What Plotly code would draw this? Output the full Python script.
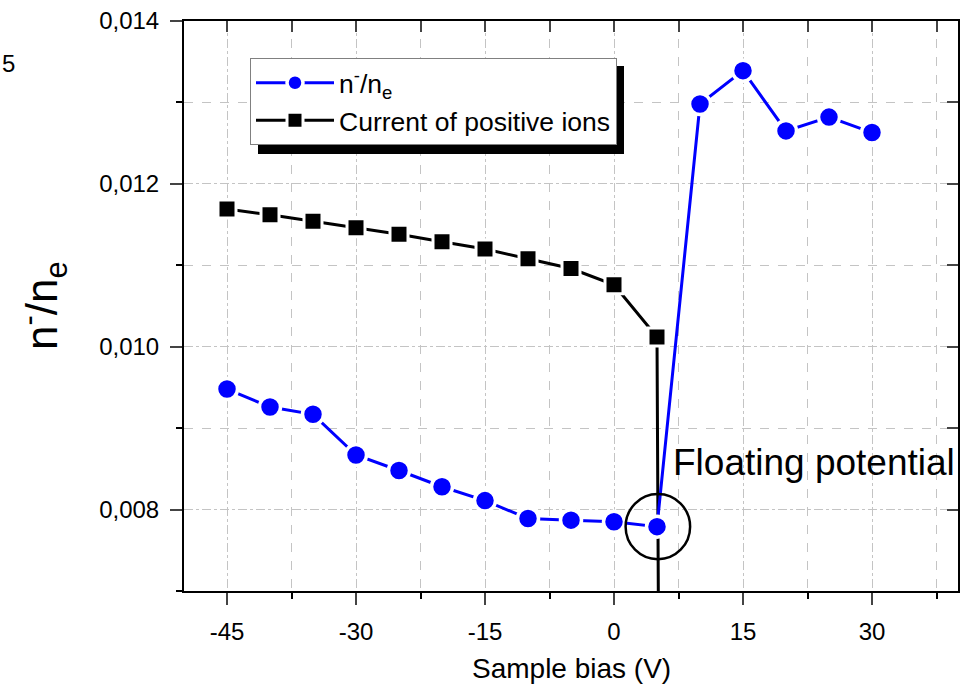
import plotly.graph_objects as go

# ---- data ----
bias_ratio = [-45, -40, -35, -30, -25, -20, -15, -10, -5, 0, 5, 10, 15, 20, 25, 30]
ratio = [0.00948, 0.00926, 0.00917, 0.00867, 0.00848, 0.00828, 0.00811, 0.00789,
         0.00787, 0.00785, 0.00779, 0.01298, 0.01339, 0.01265, 0.01282, 0.01263]

bias_current = [-45, -40, -35, -30, -25, -20, -15, -10, -5, 0, 5, 5.2]
current = [0.01169, 0.01162, 0.01154, 0.01146, 0.01138, 0.01129, 0.01120, 0.01108,
           0.01096, 0.01076, 0.01012, 0.0060]

x_ticks = [-45, -30, -15, 0, 15, 30]
x_tick_labels = ["-45", "-30", "-15", "0", "15", "30"]
y_ticks = [0.008, 0.010, 0.012, 0.014]
y_tick_labels = ["0,008", "0,010", "0,012", "0,014"]

float_x, float_y = 5.1, 0.00779   # floating potential marker (circle centre)
float_rx, float_ry = 3.75, 0.0004

FONT = "Arial, Liberation Sans, sans-serif"
GRID = "#c4c4c4"

fig = go.Figure()

fig.add_trace(go.Scatter(
    x=bias_current, y=current, mode="lines+markers", name="Current of positive ions",
    line=dict(color="black", width=3),
    marker=dict(symbol="square", size=18, color="black", line=dict(color="white", width=3)),
    legendrank=2,
))
fig.add_trace(go.Scatter(
    x=bias_ratio, y=ratio, mode="lines+markers", name="n<sup>-</sup>/n<sub>e</sub>",
    line=dict(color="#0000ff", width=3),
    marker=dict(symbol="circle", size=21, color="#0000ff", line=dict(color="white", width=3.5)),
    legendrank=1,
))
# invisible trace for the mirrored top/right axes
fig.add_trace(go.Scatter(x=[], y=[], xaxis="x2", yaxis="y2", showlegend=False, hoverinfo="skip"))

XR = [-50, 40]
YR = [0.007, 0.014]

fig.update_layout(
    width=961, height=685,
    margin=dict(l=184, r=3, t=21, b=94),
    paper_bgcolor="white", plot_bgcolor="white",
    separators=",.",
    font=dict(family=FONT, color="black", size=24),
    showlegend=True,
    legend=dict(
        x=(250 - 184) / 774, y=(591 - 58) / 570, xanchor="left", yanchor="top",
        bgcolor="white", bordercolor="#808080", borderwidth=1,
        font=dict(size=26.5, family=FONT),
        traceorder="normal", itemwidth=78,
    ),
    xaxis=dict(
        range=XR, tickvals=x_ticks, ticktext=x_tick_labels, ticks="outside", ticklen=12, tickwidth=2,
        showline=True, linewidth=2, linecolor="black", zeroline=False,
        showgrid=True, gridcolor=GRID, gridwidth=1, griddash="dot",
        tickfont=dict(size=24), ticklabelstandoff=6,
        minor=dict(dtick=7.5, tick0=-45, ticks="outside", ticklen=6, tickwidth=2,
                   tickcolor="black", showgrid=True, gridcolor=GRID, griddash="dash"),
    ),
    yaxis=dict(
        range=YR, tickvals=y_ticks, ticktext=y_tick_labels, ticks="outside", ticklen=12, tickwidth=2,
        showline=True, linewidth=2, linecolor="black", zeroline=False,
        showgrid=True, gridcolor=GRID, gridwidth=1, griddash="dot",
        tickfont=dict(size=24), ticklabelstandoff=6,
        minor=dict(dtick=0.001, tick0=0.007, ticks="outside", ticklen=6, tickwidth=2,
                   tickcolor="black", showgrid=True, gridcolor=GRID, griddash="dash"),
    ),
    xaxis2=dict(
        range=XR, overlaying="x", side="top", anchor="y", dtick=7.5, tick0=-45,
        ticks="inside", ticklen=11, tickwidth=2, showticklabels=False,
        showline=True, linewidth=2, linecolor="black", showgrid=False, zeroline=False,
    ),
    yaxis2=dict(
        range=YR, overlaying="y", side="right", anchor="x", dtick=0.001, tick0=0.007,
        ticks="inside", ticklen=11, tickwidth=2, showticklabels=False,
        showline=True, linewidth=2, linecolor="black", showgrid=False, zeroline=False,
    ),
)

# legend shadow
fig.add_shape(type="rect", xref="paper", yref="paper",
              x0=(258 - 184) / 774, x1=(624 - 184) / 774,
              y0=(591 - 154) / 570, y1=(591 - 66) / 570,
              fillcolor="black", line=dict(width=0), layer="above")

# floating potential circle
fig.add_shape(type="circle", xref="x", yref="y",
              x0=float_x - float_rx, x1=float_x + float_rx,
              y0=float_y - float_ry, y1=float_y + float_ry,
              line=dict(color="black", width=2.5), layer="above")

fig.add_annotation(x=6.6, y=0.00858, xref="x", yref="y", text="Floating potential",
                   showarrow=False, xanchor="left", yanchor="middle",
                   font=dict(size=37, family=FONT, color="black"))

# axis titles
fig.add_annotation(x=(42 - 184) / 774, y=0.5, xref="paper", yref="paper",
                   text="n<sup>-</sup>/n<sub>e</sub>", textangle=-90, showarrow=False,
                   xanchor="center", yanchor="middle",
                   font=dict(size=44, family=FONT, color="black"))
fig.add_annotation(x=0.5, y=(591 - 668) / 570, xref="paper", yref="paper",
                   text="Sample bias (V)", showarrow=False,
                   xanchor="center", yanchor="middle",
                   font=dict(size=28, family=FONT, color="black"))
# label fragment at the left edge
fig.add_annotation(x=(0 - 184) / 774, y=(591 - 63) / 570, xref="paper", yref="paper",
                   text="5", showarrow=False, xanchor="left", yanchor="middle",
                   font=dict(size=24, family=FONT, color="black"))

fig.write_html(
    "out.html",
    config={"displayModeBar": False},
    post_script="document.body.style.margin='0';document.body.style.padding='0';"
                "document.body.style.overflow='hidden';",
)
